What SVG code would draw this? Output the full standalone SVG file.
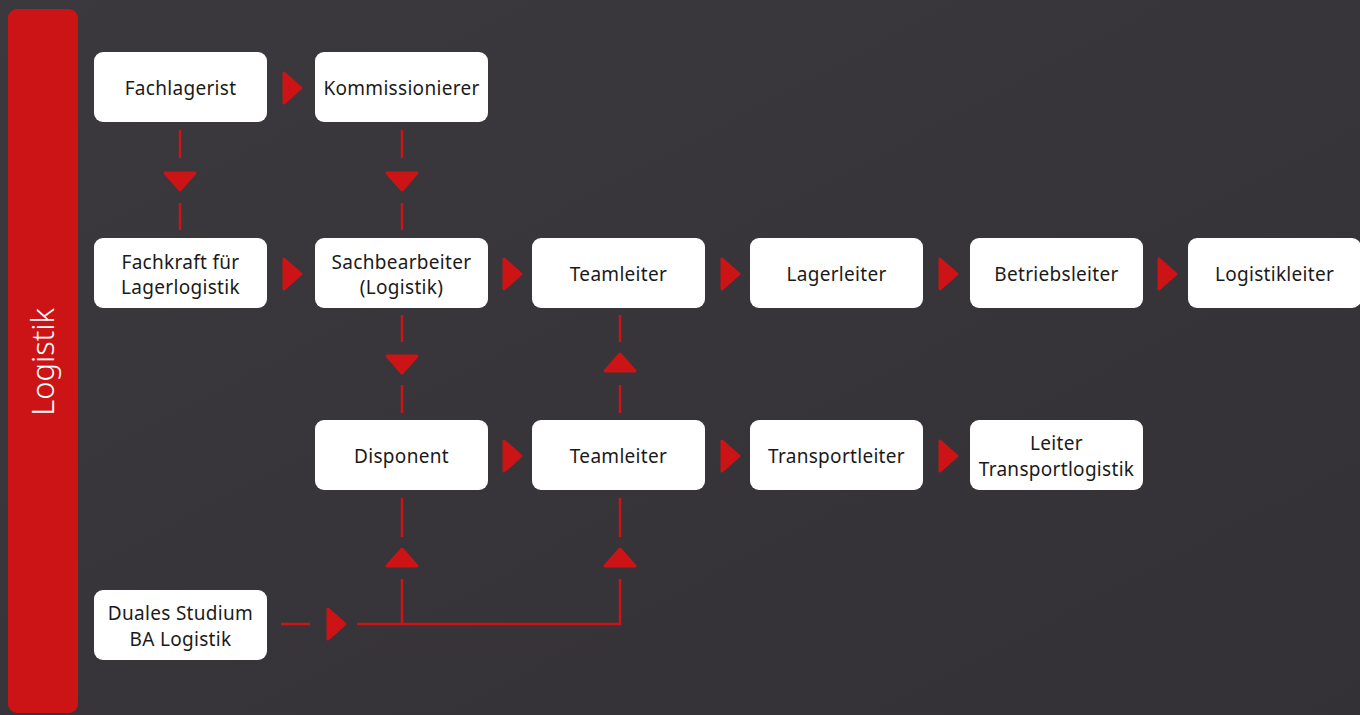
<svg xmlns="http://www.w3.org/2000/svg" width="1360" height="715" viewBox="0 0 1360 715">
<defs>
<linearGradient id="bg" x1="0" y1="0" x2="1" y2="1">
<stop offset="0" stop-color="#3b393e"/>
<stop offset="1" stop-color="#333136"/>
</linearGradient>
<path id="ar" d="M0,-15 L17,0 L0,15 Z"/>
<path id="ad" d="M-15,0 L15,0 L0,17 Z"/>
<path id="au" d="M-15,0 L15,0 L0,-17 Z"/>
</defs>
<style>
.box{fill:#ffffff}
.t{font-family:"Noto Sans","DejaVu Sans",sans-serif;font-size:19px;letter-spacing:0.3px;fill:#1a1a1a;text-anchor:middle}
.ah{fill:#cc1417;stroke:#cc1417;stroke-width:3;stroke-linejoin:round}
.ln{stroke:#cc1417;stroke-width:2.5;fill:none}
</style>
<rect width="1360" height="715" fill="url(#bg)"/>
<g id="sidebar">
<rect x="8" y="9" width="70" height="704" rx="9" fill="#cc1417"/>
<text transform="translate(54,362) rotate(-90)" font-family="Noto Sans, DejaVu Sans, sans-serif" font-size="31" font-weight="300" fill="#ffffff" text-anchor="middle">Logistik</text>
</g>
<g id="connectors">
<line class="ln" x1="180" y1="130" x2="180" y2="158"/>
<line class="ln" x1="180" y1="203" x2="180" y2="230"/>
<use href="#ad" class="ah" x="180" y="173"/>
<line class="ln" x1="402" y1="130" x2="402" y2="158"/>
<line class="ln" x1="402" y1="203" x2="402" y2="230"/>
<use href="#ad" class="ah" x="402" y="173"/>
<line class="ln" x1="402" y1="315" x2="402" y2="342"/>
<line class="ln" x1="402" y1="385" x2="402" y2="413"/>
<use href="#ad" class="ah" x="402" y="356"/>
<line class="ln" x1="620" y1="315" x2="620" y2="342"/>
<line class="ln" x1="620" y1="385" x2="620" y2="413"/>
<use href="#au" class="ah" x="620" y="371"/>
<line class="ln" x1="402" y1="498" x2="402" y2="537"/>
<use href="#au" class="ah" x="402" y="566"/>
<line class="ln" x1="620" y1="498" x2="620" y2="537"/>
<use href="#au" class="ah" x="620" y="566"/>
<polyline class="ln" points="402,579 402,624"/>
<polyline class="ln" points="357,624 620,624 620,579"/>
<line class="ln" x1="281" y1="624" x2="310" y2="624"/>
<use href="#ar" class="ah" x="328" y="624"/>
<use href="#ar" class="ah" x="284" y="88"/>
<use href="#ar" class="ah" x="284" y="274"/>
<use href="#ar" class="ah" x="504" y="274"/>
<use href="#ar" class="ah" x="722" y="274"/>
<use href="#ar" class="ah" x="940" y="274"/>
<use href="#ar" class="ah" x="1159" y="274"/>
<use href="#ar" class="ah" x="504" y="456"/>
<use href="#ar" class="ah" x="722" y="456"/>
<use href="#ar" class="ah" x="940" y="456"/>
</g>
<g id="n-fachlagerist"><rect class="box" x="94" y="52" width="173" height="70" rx="9"/><text class="t" x="180.5" y="95">Fachlagerist</text></g>
<g id="n-kommissionierer"><rect class="box" x="315" y="52" width="173" height="70" rx="9"/><text class="t" x="401.5" y="95">Kommissionierer</text></g>
<g id="n-fachkraft"><rect class="box" x="94" y="238" width="173" height="70" rx="9"/><text class="t" x="180.5" y="269">Fachkraft für</text><text class="t" x="180.5" y="294">Lagerlogistik</text></g>
<g id="n-sachbearbeiter"><rect class="box" x="315" y="238" width="173" height="70" rx="9"/><text class="t" x="401.5" y="269">Sachbearbeiter</text><text class="t" x="401.5" y="294">(Logistik)</text></g>
<g id="n-teamleiter1"><rect class="box" x="532" y="238" width="173" height="70" rx="9"/><text class="t" x="618.5" y="281">Teamleiter</text></g>
<g id="n-lagerleiter"><rect class="box" x="750" y="238" width="173" height="70" rx="9"/><text class="t" x="836.5" y="281">Lagerleiter</text></g>
<g id="n-betriebsleiter"><rect class="box" x="970" y="238" width="173" height="70" rx="9"/><text class="t" x="1056.5" y="281">Betriebsleiter</text></g>
<g id="n-logistikleiter"><rect class="box" x="1188" y="238" width="173" height="70" rx="9"/><text class="t" x="1274.5" y="281">Logistikleiter</text></g>
<g id="n-disponent"><rect class="box" x="315" y="420" width="173" height="70" rx="9"/><text class="t" x="401.5" y="463">Disponent</text></g>
<g id="n-teamleiter2"><rect class="box" x="532" y="420" width="173" height="70" rx="9"/><text class="t" x="618.5" y="463">Teamleiter</text></g>
<g id="n-transportleiter"><rect class="box" x="750" y="420" width="173" height="70" rx="9"/><text class="t" x="836.5" y="463">Transportleiter</text></g>
<g id="n-leitertransport"><rect class="box" x="970" y="420" width="173" height="70" rx="9"/><text class="t" x="1056.5" y="450">Leiter</text><text class="t" x="1056.5" y="476">Transportlogistik</text></g>
<g id="n-duales"><rect class="box" x="94" y="590" width="173" height="70" rx="9"/><text class="t" x="180.5" y="620">Duales Studium</text><text class="t" x="180.5" y="646">BA Logistik</text></g>
</svg>
